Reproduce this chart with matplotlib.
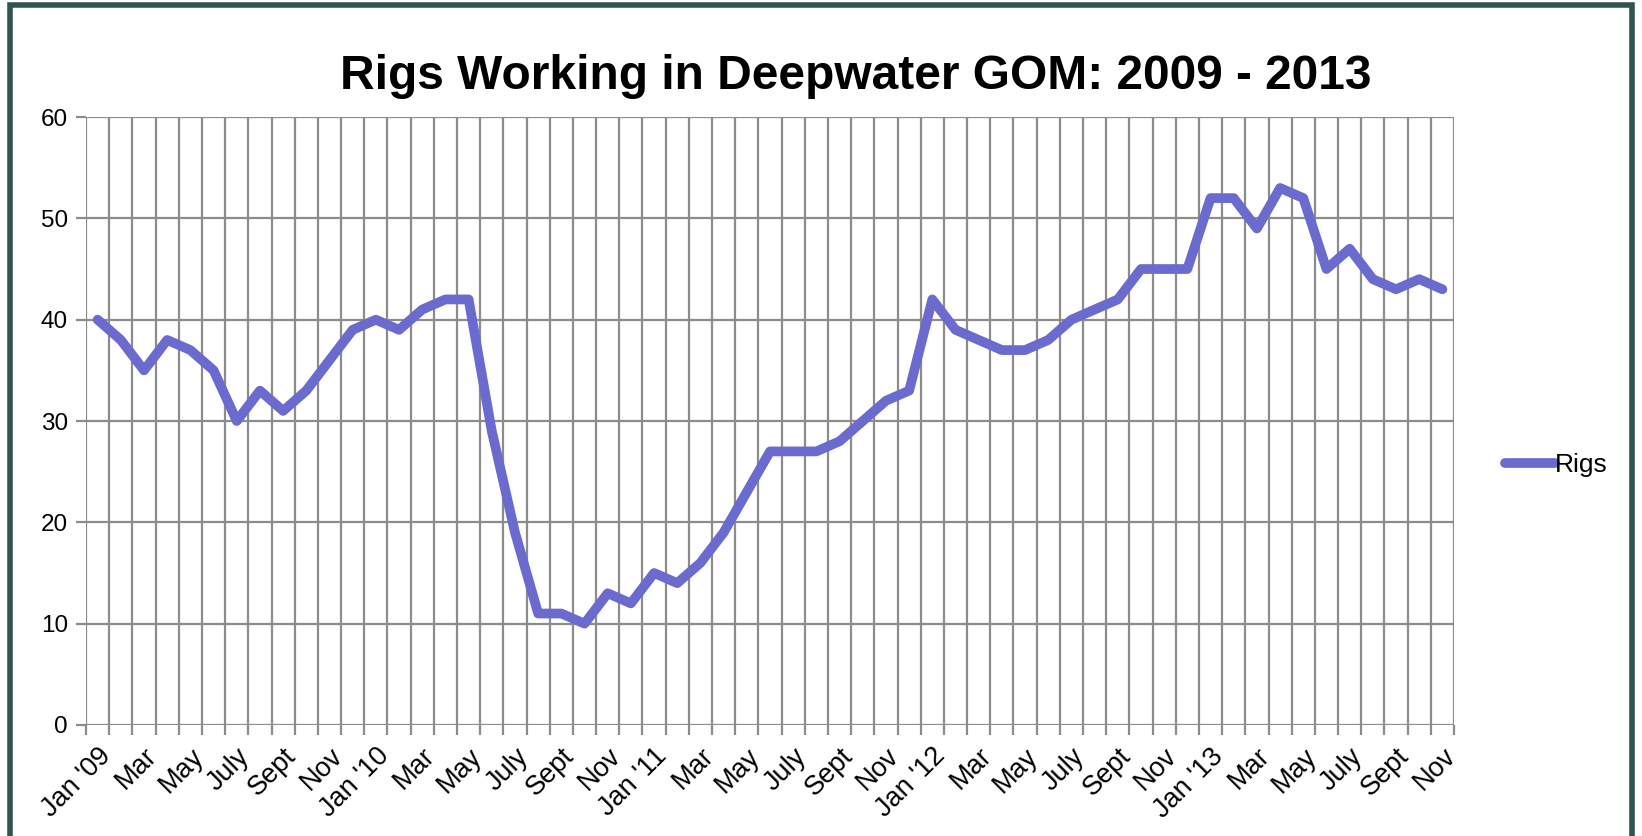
import numpy as np
import matplotlib
matplotlib.use("Agg")
import matplotlib.pyplot as plt
from matplotlib.patches import Rectangle

plt.rcParams['font.family'] = ['Liberation Sans', 'DejaVu Sans']

# monthly rigs working, Jan 2009 .. Nov 2013
rigs = [40, 38, 35, 38, 37, 35, 30, 33, 31, 33, 36, 39,
        40, 39, 41, 42, 42, 29, 19, 11, 11, 10, 13, 12,
        15, 14, 16, 19, 23, 27, 27, 27, 28, 30, 32, 33,
        42, 39, 38, 37, 37, 38, 40, 41, 42, 45, 45, 45,
        52, 52, 49, 53, 52, 45, 47, 44, 43, 44, 43]
labels = ["Jan '09", "Mar", "May", "July", "Sept", "Nov",
          "Jan '10", "Mar", "May", "July", "Sept", "Nov",
          "Jan '11", "Mar", "May", "July", "Sept", "Nov",
          "Jan '12", "Mar", "May", "July", "Sept", "Nov",
          "Jan '13", "Mar", "May", "July", "Sept", "Nov"]
yticks = [0, 10, 20, 30, 40, 50, 60]

grid_col = '#8c8c8c'
line_col = '#6b6bcf'

fig = plt.figure(figsize=(16.42, 8.36), dpi=100)
ax = fig.add_axes([0.0524, 0.1328, 0.8331, 0.7272])

x = np.arange(len(rigs))
ax.plot(x, rigs, color=line_col, lw=7, solid_capstyle='round',
        solid_joinstyle='round', label='Rigs', zorder=3)

ax.set_xlim(-0.5, len(rigs) - 0.5)
ax.set_ylim(0, 60)
ax.set_yticks(yticks)
ax.set_xticks(x[::2])
ax.set_xticklabels(labels, rotation=45, ha='right', rotation_mode='anchor')
ax.set_xticks(np.arange(-0.5, len(rigs)), minor=True)

ax.grid(True, which='minor', axis='x', color=grid_col, lw=1.6)
ax.grid(True, which='major', axis='y', color=grid_col, lw=1.6)
ax.tick_params(axis='x', which='major', length=0, labelsize=19.5, pad=13)
ax.tick_params(axis='x', which='minor', length=7, width=1.6, color=grid_col)
ax.tick_params(axis='y', length=7, width=1.6, color=grid_col, labelsize=17.5, pad=6)
for s in ax.spines.values():
    s.set_visible(False)
ax.set_axisbelow(True)

fig.text(0.521, 0.908, 'Rigs Working in Deepwater GOM: 2009 - 2013',
         ha='center', va='center', fontsize=34.5, fontweight='bold')

ax.legend(loc='center left', bbox_to_anchor=(1.02, 0.428), frameon=False,
          fontsize=19, handlelength=1.9, handletextpad=0.0)

fig.patches.append(Rectangle((0.006, -0.05), 0.988, 1.044, transform=fig.transFigure,
                             fill=False, edgecolor='#2f5451', lw=4))

fig.savefig('out.png', dpi=100)
